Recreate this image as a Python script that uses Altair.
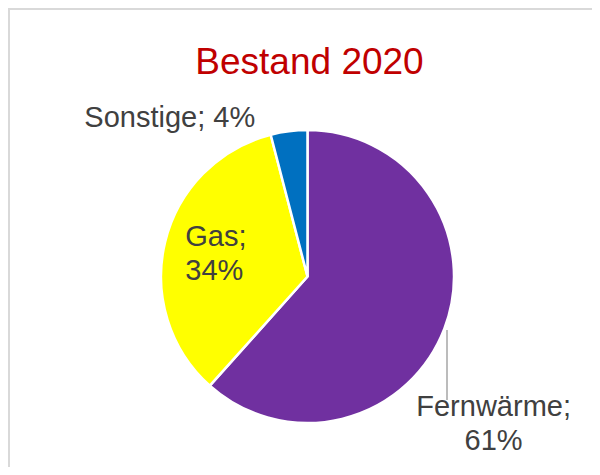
import altair as alt
import pandas as pd

categories = ["Fernwärme", "Gas", "Sonstige"]
shares = [61, 34, 4]
colors = ["#7030A0", "#FFFF00", "#0070C0"]
labels = ["Fernwärme;\n61%", "Gas;\n34%", "Sonstige; 4%"]
order = [0, 1, 2]

df = pd.DataFrame({"cat": categories, "share": shares, "label": labels, "ord": order})

W, H = 584, 459
CX, CY, R = 299.5, 268.5, 146.5
FONT = "Liberation Sans"

base = alt.Chart(df).encode(
    theta=alt.Theta("share:Q", stack=True),
    order=alt.Order("ord:Q"),
    x=alt.value(CX),
    y=alt.value(CY),
)

pie = base.mark_arc(outerRadius=R, stroke="white", strokeWidth=2.5).encode(
    color=alt.Color("cat:N", scale=alt.Scale(domain=categories, range=colors), legend=None)
)


def lab(cat, **kw):
    return base.mark_text(
        font=FONT, fontSize=29, color="#404040", lineBreak="\n", lineHeight=34,
        baseline="middle", **kw
    ).encode(
        text=alt.condition(f"datum.cat === '{cat}'", alt.Text("label:N"), alt.value(""))
    )


lab_fw = lab("Fernwärme", radius=150, align="center", dx=46, dy=77)
lab_gas = lab("Gas", radius=98, align="left", dx=-27, dy=-16)
lab_so = lab("Sonstige", radius=160, align="right", dx=-32, dy=0)

one = pd.DataFrame({"a": [0]})
leader = alt.Chart(one).mark_rule(color="#a6a6a6", strokeWidth=1.5).encode(
    x=alt.value(439), y=alt.value(322), y2=alt.value(392)
)
border_top = alt.Chart(one).mark_rule(color="#d9d9d9", strokeWidth=2).encode(
    x=alt.value(0), x2=alt.value(W), y=alt.value(1)
)
border_left = alt.Chart(one).mark_rule(color="#d9d9d9", strokeWidth=2).encode(
    x=alt.value(1), y=alt.value(0), y2=alt.value(H)
)

chart = alt.layer(border_top, border_left, pie, leader, lab_fw, lab_gas, lab_so).properties(
    width=W,
    height=H,
    autosize=alt.AutoSizeParams(type="none"),
    padding=0,
    title=alt.Title(
        "Bestand 2020", fontSize=37, color="#C00000", font=FONT, fontWeight="normal",
        anchor="middle", frame="group", baseline="alphabetic", offset=-104, dx=9.5
    ),
).configure_view(stroke=None)

chart.save("out.html", embed_options={"renderer": "svg", "actions": False})
